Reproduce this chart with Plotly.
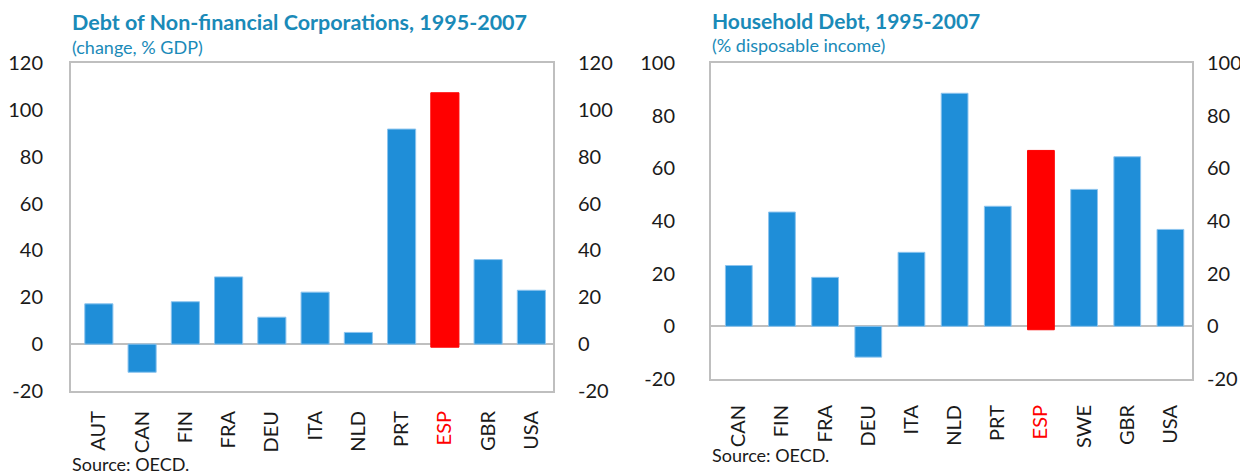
import plotly.graph_objects as go

# ---- data ----
corp_countries = ["AUT", "CAN", "FIN", "FRA", "DEU", "ITA", "NLD", "PRT", "ESP", "GBR", "USA"]
corp_values = [17.2, -12.0, 18.1, 28.7, 11.5, 22.2, 5.0, 91.8, 107.3, 36.1, 23.0]

hh_countries = ["CAN", "FIN", "FRA", "DEU", "ITA", "NLD", "PRT", "ESP", "SWE", "GBR", "USA"]
hh_values = [23.1, 43.4, 18.6, -11.7, 28.1, 88.5, 45.6, 66.8, 52.0, 64.4, 36.8]

highlight = "ESP"
corp_ticks = [-20, 0, 20, 40, 60, 80, 100, 120]
hh_ticks = [-20, 0, 20, 40, 60, 80, 100]

BLUE = "#1F8ED8"
RED = "#FF0000"
FRAME = "#BFBFBF"
TITLE_C = "#1A8AB8"
FONT = "Lato"

def colors(cats):
    return [RED if c == highlight else BLUE for c in cats]

def bases(cats):
    return [-1.3 if c == highlight else 0 for c in cats]

def lines(cats):
    return [RED if c == highlight else "#8CC4EE" for c in cats]

def ticktext(cats):
    return [f"<span style='color:{RED}'>{c}</span>" if c == highlight else c for c in cats]

def numtext(vals):
    return [str(v) for v in vals]  # plain hyphen minus as in the reference

corp_y = [v - b for v, b in zip(corp_values, bases(corp_countries))]
hh_y = [v - b for v, b in zip(hh_values, bases(hh_countries))]

fig = go.Figure()
fig.add_trace(go.Bar(x=corp_countries, y=corp_y, base=bases(corp_countries),
                     marker=dict(color=colors(corp_countries),
                                 line=dict(color=lines(corp_countries), width=1)),
                     width=0.65, xaxis="x", yaxis="y", showlegend=False))
fig.add_trace(go.Bar(x=hh_countries, y=hh_y, base=bases(hh_countries),
                     marker=dict(color=colors(hh_countries),
                                 line=dict(color=lines(hh_countries), width=1)),
                     width=0.62, xaxis="x2", yaxis="y3", showlegend=False))

# page body has an 8px margin: figure is offset by 8px in the screenshot
OFF = 8
W, H = 1240, 467
def px_x(a, b):
    return [(a - OFF) / W, (b - OFF) / W]
def px_y(top, bottom):
    return [1 - (bottom - OFF) / H, 1 - (top - OFF) / H]

tickfont = dict(family=FONT, size=20, color="#1a1a1a")

xcommon = dict(showline=True, mirror=True, linecolor=FRAME, linewidth=2,
               showgrid=False, ticks="", tickangle=-90, tickfont=tickfont,
               automargin=False)
ycommon = dict(showline=True, mirror=True, linecolor=FRAME, linewidth=2,
               showgrid=False, zeroline=True, zerolinecolor=FRAME, zerolinewidth=2,
               ticks="", tickfont=tickfont, automargin=False)
yright = dict(showgrid=False, zeroline=False, showline=False, ticks="",
              tickfont=tickfont, automargin=False)

fig.update_layout(
    width=W, height=H,
    margin=dict(l=0, r=0, t=0, b=0),
    paper_bgcolor="white", plot_bgcolor="white",
    xaxis=dict(domain=px_x(71, 553), anchor="y", tickvals=corp_countries,
               ticktext=ticktext(corp_countries), ticklabelstandoff=10, **xcommon),
    yaxis=dict(domain=px_y(63, 391), anchor="x", range=[-20, 120],
               tickvals=corp_ticks, ticktext=numtext(corp_ticks),
               ticklabelstandoff=22, **ycommon),
    yaxis2=dict(domain=px_y(63, 391), anchor="x", overlaying="y", side="right",
                range=[-20, 120], tickvals=corp_ticks, ticktext=numtext(corp_ticks),
                ticklabelstandoff=24, **yright),
    xaxis2=dict(domain=px_x(711, 1192), anchor="y3", tickvals=hh_countries,
                ticktext=ticktext(hh_countries), ticklabelstandoff=16, **xcommon),
    yaxis3=dict(domain=px_y(63, 379), anchor="x2", range=[-20, 100],
                tickvals=hh_ticks, ticktext=numtext(hh_ticks),
                ticklabelstandoff=30, **ycommon),
    yaxis4=dict(domain=px_y(63, 379), anchor="x2", overlaying="y3", side="right",
                range=[-20, 100], tickvals=hh_ticks, ticktext=numtext(hh_ticks),
                ticklabelstandoff=14, **yright),
)

# invisible traces to activate right-hand axes
fig.add_trace(go.Scatter(x=[corp_countries[0]], y=[0], xaxis="x", yaxis="y2",
                         mode="markers", marker=dict(opacity=0), showlegend=False, hoverinfo="skip"))
fig.add_trace(go.Scatter(x=[hh_countries[0]], y=[0], xaxis="x2", yaxis="y4",
                         mode="markers", marker=dict(opacity=0), showlegend=False, hoverinfo="skip"))

def text(x, y, s, size, bold=False, color=TITLE_C):
    fig.add_annotation(xref="paper", yref="paper", x=(x - OFF) / W, y=1 - (y - OFF) / H,
                       xanchor="left", yanchor="middle", showarrow=False,
                       text=f"<b>{s}</b>" if bold else s,
                       font=dict(family=FONT, size=size, color=color))

text(70, 22, "Debt of Non-financial Corporations, 1995-2007", 21.5, bold=True)
text(70, 47, "(change, % GDP)", 18)
text(70, 464, "Source: OECD.", 18, color="#1a1a1a")
text(710, 21, "Household Debt, 1995-2007", 21, bold=True)
text(710, 45, "(% disposable income)", 18)
text(710, 455, "Source: OECD.", 18, color="#1a1a1a")

fig.write_html("out.html")
